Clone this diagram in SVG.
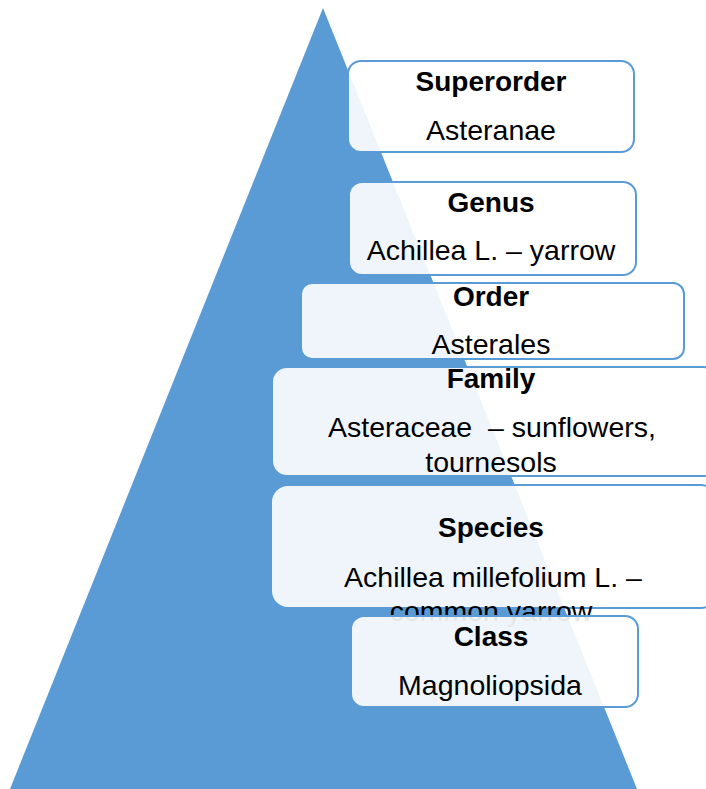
<svg xmlns="http://www.w3.org/2000/svg" width="706" height="789" viewBox="0 0 706 789">
<style>
.box{fill:#ffffff;fill-opacity:0.9;stroke:#5B9BD5;stroke-width:2}
text{font-family:"Liberation Sans",Arial,sans-serif;font-size:28.5px;fill:#000;text-anchor:middle}
.t{font-weight:bold;font-size:28px}
</style>
<rect width="706" height="789" fill="#ffffff"/>
<polygon id="pyramid" points="323,8 637,789 10,789" fill="#5B9BD5"/>
<g id="connectors"></g>
<g id="superorder">
<rect class="box" x="348" y="61" width="286" height="91" rx="13"/>
<text class="t" x="491" y="91">Superorder</text>
<text x="491" y="140">Asteranae</text>
</g>
<g id="genus">
<rect class="box" x="349" y="182" width="287" height="93" rx="13"/>
<text class="t" x="491" y="212">Genus</text>
<text x="491" y="260">Achillea L. – yarrow</text>
</g>
<g id="order">
<rect class="box" x="301" y="283" width="383" height="76" rx="11"/>
<text class="t" x="491" y="306">Order</text>
<text x="491" y="354">Asterales</text>
</g>
<g id="family">
<rect class="box" x="272" y="367" width="446" height="109" rx="15"/>
<text class="t" x="491" y="388">Family</text>
<text x="492" y="437" xml:space="preserve">Asteraceae  – sunflowers,</text>
<text x="491" y="472">tournesols</text>
</g>
<g id="species">
<rect class="box" x="271" y="485" width="447" height="123" rx="17"/>
<text class="t" x="491" y="537">Species</text>
<text x="493" y="587">Achillea millefolium L. –</text>
<text x="491" y="621">common yarrow</text>
</g>
<g id="class">
<rect class="box" x="351" y="616" width="287" height="91" rx="13"/>
<text class="t" x="491" y="646">Class</text>
<text x="490" y="695">Magnoliopsida</text>
</g>
</svg>
